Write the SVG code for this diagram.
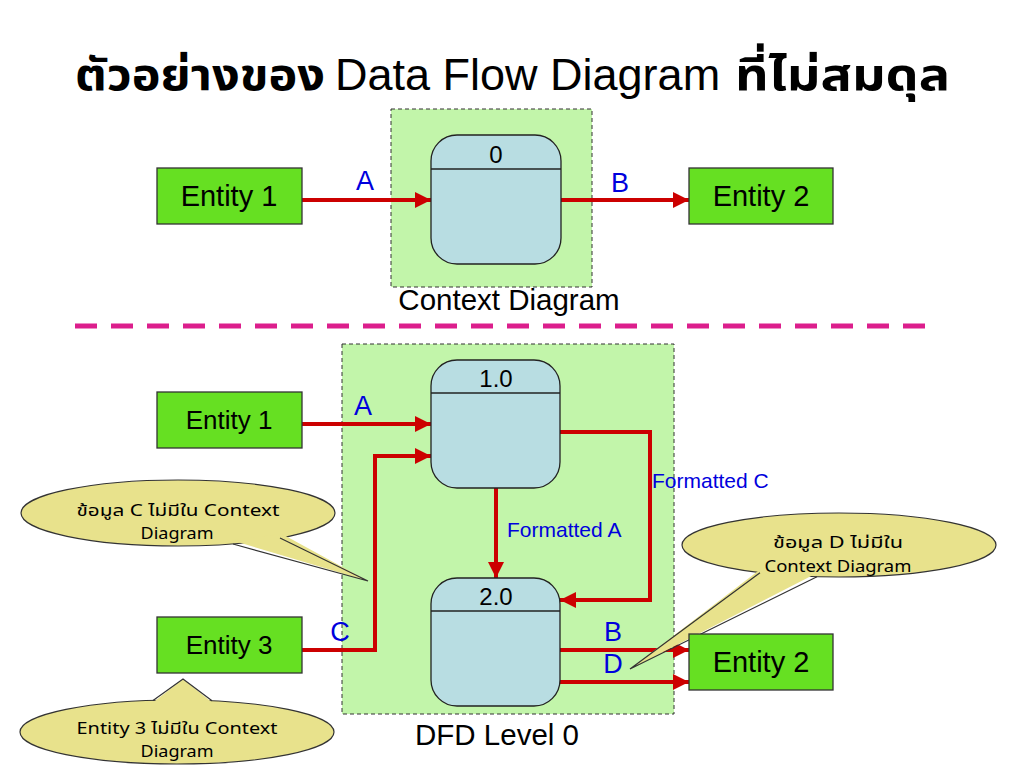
<svg xmlns="http://www.w3.org/2000/svg" width="1024" height="768" viewBox="0 0 1024 768">
<defs>
<marker id="arr" viewBox="0 0 10 10" refX="10" refY="5" markerWidth="4" markerHeight="4" markerUnits="strokeWidth" orient="auto">
<path d="M0,0 L10,5 L0,10 z" fill="#cc0000"/>
</marker>
<style>
.txt{font-family:"Liberation Sans",Arial,sans-serif;fill:#000}
.thai{font-family:Tahoma,"Noto Sans Thai","Noto Sans","DejaVu Sans",sans-serif;fill:#000;font-weight:bold}
.box{fill:#c2f5aa;stroke:#333;stroke-width:1;stroke-dasharray:4,3}
.ent{fill:#66e022;stroke:#333;stroke-width:1.3}
.proc{fill:#b8dde2;stroke:#222;stroke-width:1.3}
.div{stroke:#222;stroke-width:1.3}
.flow{fill:none;stroke:#cc0000;stroke-width:4;marker-end:url(#arr)}
.lbl{font-family:"Liberation Sans",Arial,sans-serif;fill:#0000dd}
.call{fill:#e8e28c;stroke:#333;stroke-width:1.2}
.tailfill{fill:#e8e28c;stroke:none}
.tailedge{fill:none;stroke:#333;stroke-width:1.2}
.ctext{font-family:Tahoma,"Noto Sans Thai","Noto Sans","DejaVu Sans",sans-serif;font-size:16px;fill:#000;text-anchor:middle}
</style>
</defs>
<rect width="1024" height="768" fill="#fff"/>

<g id="title">
<text class="thai" x="75" y="90" font-size="45" textLength="250" lengthAdjust="spacingAndGlyphs">ตัวอย่างของ</text>
<text class="txt" x="335" y="90" font-size="45">Data Flow Diagram</text>
<text class="thai" x="735" y="90" font-size="45" textLength="215" lengthAdjust="spacingAndGlyphs">ที่ไม่สมดุล</text>
</g>

<g id="context-box">
<rect class="box" x="391" y="109" width="201" height="178"/>
<text class="txt" x="509" y="310" font-size="29.5" text-anchor="middle">Context Diagram</text>
</g>
<g id="dfd-box">
<rect class="box" x="342" y="344" width="332" height="370"/>
<text class="txt" x="497" y="745" font-size="29.5" text-anchor="middle">DFD Level 0</text>
</g>

<line x1="75" y1="326" x2="932" y2="326" stroke="#dc1e8c" stroke-width="5" stroke-dasharray="22,14"/>

<g id="callout-c">
<ellipse class="call" cx="178" cy="513" rx="157" ry="33"/>
<polygon class="tailfill" points="231,540 282,534 368,581"/>
<polyline class="tailedge" points="233,544 368,581 280,538"/>
<text class="ctext" x="178" y="516" textLength="203" lengthAdjust="spacingAndGlyphs">ข้อมูล C ไม่มีใน Context</text>
<text class="ctext" x="177" y="539" textLength="73" lengthAdjust="spacingAndGlyphs">Diagram</text>
</g>
<g id="callout-e3">
<ellipse class="call" cx="177" cy="732" rx="157" ry="32"/>
<polygon class="tailfill" points="151,704 214,704 183,679"/>
<polyline class="tailedge" points="153,700.4 183,679 212,700.8"/>
<text class="ctext" x="177" y="734" textLength="201" lengthAdjust="spacingAndGlyphs">Entity 3 ไม่มีใน Context</text>
<text class="ctext" x="177" y="757" textLength="73" lengthAdjust="spacingAndGlyphs">Diagram</text>
</g>

<g id="connectors">
<line class="flow" x1="302" y1="200" x2="431" y2="200"/>
<line class="flow" x1="561" y1="200" x2="689" y2="200"/>
<line class="flow" x1="302" y1="424" x2="431" y2="424"/>
<polyline class="flow" points="302,650 375,650 375,456 431,456"/>
<line class="flow" x1="496" y1="488" x2="496" y2="578"/>
<polyline class="flow" points="560,432 650,432 650,600 560,600"/>
<line class="flow" x1="560" y1="650" x2="689" y2="650"/>
<line class="flow" x1="560" y1="682" x2="689" y2="682"/>
<text class="lbl" x="365" y="190" font-size="27" text-anchor="middle">A</text>
<text class="lbl" x="620" y="192" font-size="27" text-anchor="middle">B</text>
<text class="lbl" x="363" y="415" font-size="27" text-anchor="middle">A</text>
<text class="lbl" x="340" y="641" font-size="27" text-anchor="middle">C</text>
<text class="lbl" x="507" y="537" font-size="21">Formatted A</text>
<text class="lbl" x="652" y="488" font-size="21">Formatted C</text>
<text class="lbl" x="613" y="641" font-size="27" text-anchor="middle">B</text>
<text class="lbl" x="613" y="673" font-size="27" text-anchor="middle">D</text>
</g>

<g id="callout-d">
<ellipse class="call" cx="839" cy="545" rx="157" ry="32"/>
<polygon class="tailfill" points="762,568 819,572 630,669"/>
<polyline class="tailedge" points="760,572.7 630,669 817,576.7"/>
<text class="ctext" x="838" y="548" textLength="130" lengthAdjust="spacingAndGlyphs">ข้อมูล D ไม่มีใน</text>
<text class="ctext" x="838" y="572" textLength="147" lengthAdjust="spacingAndGlyphs">Context Diagram</text>
</g>

<g id="entity1-top">
<rect class="ent" x="157" y="168" width="145" height="56"/>
<text class="txt" x="229" y="206" font-size="29" text-anchor="middle">Entity 1</text>
</g>
<g id="entity2-top">
<rect class="ent" x="689" y="168" width="144" height="56"/>
<text class="txt" x="761" y="206" font-size="29" text-anchor="middle">Entity 2</text>
</g>
<g id="process-0">
<rect class="proc" x="431" y="135" width="130" height="129" rx="26"/>
<line class="div" x1="431" y1="169" x2="561" y2="169"/>
<text class="txt" x="496" y="163" font-size="24" text-anchor="middle">0</text>
</g>

<g id="entity1">
<rect class="ent" x="157" y="392" width="145" height="56"/>
<text class="txt" x="229" y="429" font-size="26" text-anchor="middle">Entity 1</text>
</g>
<g id="entity3">
<rect class="ent" x="157" y="617" width="145" height="56"/>
<text class="txt" x="229" y="654" font-size="26" text-anchor="middle">Entity 3</text>
</g>
<g id="entity2">
<rect class="ent" x="689" y="634" width="144" height="56"/>
<text class="txt" x="761" y="672" font-size="29" text-anchor="middle">Entity 2</text>
</g>
<g id="process-1">
<rect class="proc" x="431" y="360" width="129" height="128" rx="26"/>
<line class="div" x1="431" y1="393" x2="560" y2="393"/>
<text class="txt" x="496" y="387" font-size="24" text-anchor="middle">1.0</text>
</g>
<g id="process-2">
<rect class="proc" x="431" y="578" width="129" height="128" rx="26"/>
<line class="div" x1="431" y1="611" x2="560" y2="611"/>
<text class="txt" x="496" y="605" font-size="24" text-anchor="middle">2.0</text>
</g>
</svg>
